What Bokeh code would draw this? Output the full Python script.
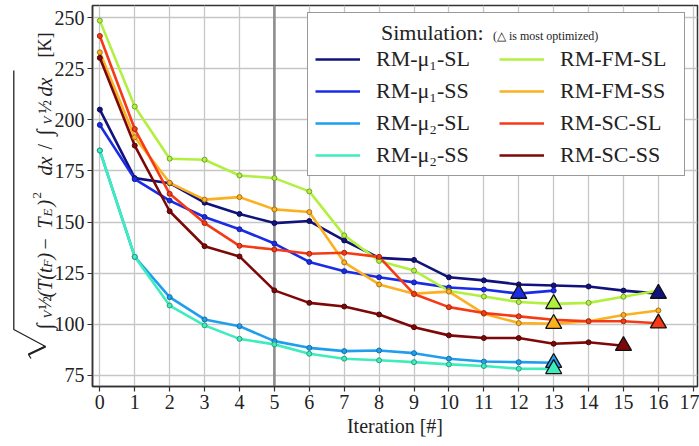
from math import pi

from bokeh.core.properties import value
from bokeh.embed import file_html
from bokeh.layouts import row
from bokeh.models import (ColumnDataSource, FixedTicker, Legend, LegendItem,
                          Range1d, Span)
from bokeh.plotting import figure
from bokeh.resources import INLINE

# ---- data -------------------------------------------------------------
iterations = list(range(17))

series_names = ["RM-μ₁-SL", "RM-μ₁-SS", "RM-μ₂-SL", "RM-μ₂-SS",
                "RM-FM-SL", "RM-FM-SS", "RM-SC-SL", "RM-SC-SS"]

rm_mu1_sl = [205, 171.5, 169, 159.5, 154, 149.5, 150.5, 141, 132.5, 131.5,
             123, 121.5, 119.5, 119, 118.5, 116.5, 115]
rm_mu1_ss = [197.5, 171, 160.5, 152.5, 146.5, 139.5, 130.5, 126, 123, 120.5,
             118, 117, 115, 116.5]
rm_mu2_sl = [185, 133, 113.3, 102.4, 99.1, 91.8, 88.5, 86.9, 87.2, 85.9,
             83.2, 81.8, 81.5, 81.2]
rm_mu2_ss = [185, 133, 109.2, 99.5, 92.9, 90.2, 85.6, 83.2, 82.4, 81.5,
             80.4, 79.6, 78.3, 78.2]
rm_fm_sl = [248.5, 206.5, 181, 180.5, 172.8, 171.5, 165, 143.5, 131, 126.3,
            116.3, 113.6, 110.9, 110, 110.5, 113.5, 116.5]
rm_fm_ss = [233, 191.5, 169.2, 161, 162.2, 156.2, 154.9, 130.3, 119.5, 115,
            116, 105.2, 100.6, 100.3, 101.5, 104.6, 106.8]
rm_sc_sl = [241, 195.5, 163.8, 149.5, 138.4, 136.6, 134.5, 135, 133, 114.8,
            108.4, 105.5, 103.9, 102.2, 101.5, 101.5, 100.5]
rm_sc_ss = [230.3, 187.4, 155.3, 138.2, 133.2, 116.6, 110.5, 108.7, 104.8,
            98.6, 94.6, 93.3, 93.3, 90.5, 91.2, 89.5]

series_values = [rm_mu1_sl, rm_mu1_ss, rm_mu2_sl, rm_mu2_ss,
                 rm_fm_sl, rm_fm_ss, rm_sc_sl, rm_sc_ss]

# iteration of the most optimized design of each run
best_iteration = [16, 12, 13, 13, 13, 13, 16, 15]

marked_iteration = 5

x_ticks = list(range(18))
y_ticks = [75, 100, 125, 150, 175, 200, 225, 250]

# ---- style ------------------------------------------------------------
colors = ["#12127c", "#1a2ce6", "#1f9ef0", "#3eecbe",
          "#b2f040", "#fbb020", "#f63a16", "#7e0808"]
edge_colors = ["#0c0c50", "#12209a", "#16709e", "#2a9e80",
               "#74a028", "#a87414", "#a4260e", "#520404"]

SERIF = "Liberation Serif"
INK = "#333333"
TEXT = "#222222"
H = 446
LABEL_W = 50          # horizontal room taken by the y axis title
STRIP_W = 130         # canvas width of the title strip (overlapped by the plot)
TOP, BOTTOM = 5, 60   # shared top / bottom borders of both panels

p = figure(width=699 - LABEL_W, height=H, output_backend="svg",
           toolbar_location=None,
           x_range=Range1d(-0.21, 17.12), y_range=Range1d(69.6, 255.9))
p.min_border_left = 92 - LABEL_W
p.min_border_right = 2
p.min_border_top = TOP
p.min_border_bottom = BOTTOM
p.margin = (0, 0, 0, LABEL_W - STRIP_W)
p.background_fill_color = "white"
p.border_fill_alpha = 0.0
p.outline_line_color = INK
p.outline_line_width = 1.5

p.xaxis.ticker = FixedTicker(ticks=x_ticks)
p.yaxis.ticker = FixedTicker(ticks=y_ticks)
p.xgrid.ticker = FixedTicker(ticks=x_ticks)
p.ygrid.ticker = FixedTicker(ticks=y_ticks)
for g in (p.xgrid, p.ygrid):
    g.grid_line_color = "#c6c6c6"
    g.grid_line_width = 1.3

for ax in (p.xaxis, p.yaxis):
    ax.axis_line_color = INK
    ax.axis_line_width = 1.5
    ax.major_tick_line_color = INK
    ax.major_tick_line_width = 1.2
    ax.major_tick_out = 5
    ax.major_tick_in = 0
    ax.minor_tick_out = 0
    ax.minor_tick_in = 0
    ax.major_label_text_font = SERIF
    ax.major_label_text_font_size = "20px"
    ax.major_label_text_color = TEXT
    ax.major_label_standoff = 3

p.xaxis.axis_label = "Iteration [#]"
p.xaxis.axis_label_text_font = SERIF
p.xaxis.axis_label_text_font_size = "20px"
p.xaxis.axis_label_text_font_style = "normal"
p.xaxis.axis_label_text_color = TEXT
p.xaxis.axis_label_standoff = 3

# grey marker line at the chosen iteration
p.add_layout(Span(location=marked_iteration, dimension="height",
                  line_color="#8e8e8e", line_width=2.6, level="underlay"))

# ---- series -----------------------------------------------------------
for name, vals, col in zip(series_names, series_values, colors):
    p.line(iterations[:len(vals)], vals, line_color=col, line_width=2.6,
           legend_label=name)

for vals, col, ec in zip(series_values, colors, edge_colors):
    p.scatter(iterations[:len(vals)], vals, marker="circle", size=5,
              fill_color=col, line_color=ec, line_width=1)

for vals, col, it in zip(series_values, colors, best_iteration):
    p.scatter([it], [vals[it]], marker="triangle", size=16,
              fill_color=col, line_color="#111111", line_width=1.3)

# ---- legend -----------------------------------------------------------
leg = p.legend[0]
leg.location = (215, 210)
leg.nrows = 4
leg.glyph_width = 45
leg.glyph_height = 24
leg.label_height = 24
leg.label_width = 117
leg.label_standoff = 16
leg.spacing = 6
leg.padding = 7
leg.margin = 0
leg.border_line_color = INK
leg.border_line_width = 1.5
leg.background_fill_alpha = 1.0
leg.label_text_font = SERIF
leg.label_text_font_size = "22px"
leg.label_text_color = TEXT
# non-breaking spaces push the title towards the middle of the box
leg.title = "\u00a0" * 12 + "Simulation:"
leg.title_text_font = SERIF
leg.title_text_font_size = "22px"
leg.title_text_font_style = "normal"
leg.title_text_color = TEXT
leg.title_standoff = 0

# small note beside the legend title: a frameless legend with an empty,
# invisible renderer so only its label shows
note_renderer = p.line(x=[], y=[], line_alpha=0.0)
note = Legend(items=[LegendItem(label="(△ is most optimized)",
                                renderers=[note_renderer])],
              location=(400, 342), glyph_width=1, glyph_height=12,
              label_height=12, label_standoff=0, padding=0, margin=0,
              spacing=0, background_fill_alpha=0.0, border_line_alpha=0.0,
              label_text_font=SERIF, label_text_font_size="12px",
              label_text_color=TEXT)
p.add_layout(note)

# ---- y axis title: sqrt( ∫V ½ (T(tF) - TE)² dx / ∫V ½ dx ) [K] ----------
# pieces: text, start along the axis (px from top), baseline (px from left),
# font size, style
ylabel_parts = [
    ("∫", 329, 44, "22px", "normal"),
    ("V", 318, 47, "13px", "italic"),
    ("½", 309, 44, "18px", "normal"),
    ("(T(t", 297, 44, "20px", "italic"),
    ("F", 267, 47, "13px", "italic"),
    (")", 259, 44, "20px", "italic"),
    ("−", 249, 44, "20px", "normal"),
    ("T", 228, 44, "20px", "italic"),
    ("E", 216, 47, "13px", "italic"),
    (")", 206, 44, "20px", "italic"),
    ("2", 198, 36, "13px", "normal"),
    ("dx", 175, 44, "20px", "italic"),
    ("/", 149, 44, "20px", "normal"),
    ("∫", 135, 44, "22px", "normal"),
    ("V", 124, 47, "13px", "italic"),
    ("½", 113, 44, "18px", "normal"),
    ("dx", 96, 44, "20px", "italic"),
    ("[K]", 57, 44, "18px", "normal"),
]
# square-root sign: hook, down stroke, long up stroke and the bar on top
radical_x = [30.5, 28.0, 45.0, 13.3, 13.3]
radical_y = [358, 354, 346, 329, 70]

q = figure(width=STRIP_W, height=H, output_backend="svg",
           toolbar_location=None, x_axis_location=None, y_axis_location=None,
           x_range=Range1d(0, STRIP_W), y_range=Range1d(BOTTOM, H - TOP))
q.min_border_left = 0
q.min_border_right = 0
q.min_border_top = TOP
q.min_border_bottom = BOTTOM
q.outline_line_color = None
q.grid.visible = False
q.background_fill_alpha = 0.0
q.border_fill_alpha = 0.0

for style in ("normal", "italic"):
    parts = [pt for pt in ylabel_parts if pt[4] == style]
    src = ColumnDataSource(dict(
        x=[pt[2] for pt in parts], y=[H - pt[1] for pt in parts],
        text=[pt[0] for pt in parts], size=[pt[3] for pt in parts]))
    q.text(x="x", y="y", text="text", source=src, angle=pi / 2,
           text_font=value(SERIF), text_font_size="size",
           text_font_style=style, text_color=TEXT,
           text_align="left", text_baseline="alphabetic")

q.line(radical_x, [H - v for v in radical_y], line_color=TEXT,
       line_width=1.3)
q.line(radical_x[1:3], [H - v for v in radical_y[1:3]], line_color=TEXT,
       line_width=2.2)

layout = row(q, p)
open("out.html", "w").write(file_html(layout, INLINE))
